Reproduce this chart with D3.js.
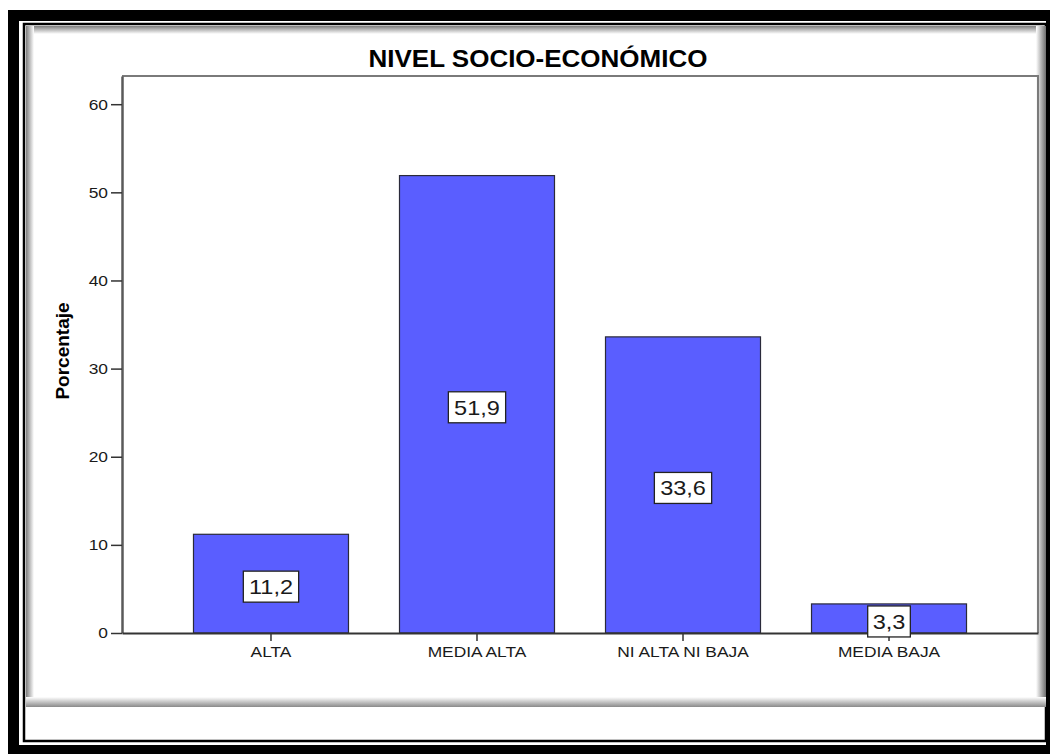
<!DOCTYPE html>
<html>
<head>
<meta charset="utf-8">
<script src="https://cdn.jsdelivr.net/npm/d3@7"></script>
<style>
  body { margin: 0; background: #fff; }
  svg { display: block; font-family: "Liberation Sans", Arial, sans-serif; }
</style>
</head>
<body>
<div id="canvas"></div>
<script>
// data
const categories = ['ALTA', 'MEDIA ALTA', 'NI ALTA NI BAJA', 'MEDIA BAJA'];
const percentages = [11.2, 51.9, 33.6, 3.3];
const yTicks = [0, 10, 20, 30, 40, 50, 60];
const yMax = 63.2;
const title = 'NIVEL SOCIO-ECONÓMICO';
const yLabel = 'Porcentaje';

const width = 1050, height = 754;
const plot = { left: 122, right: 1038, top: 76, bottom: 633 };
const stretchX = 1.12; // the source picture is a bit wider than tall
const fontFamily = '"Liberation Sans", Arial, sans-serif';

const svg = d3.select('#canvas').append('svg')
    .attr('width', width)
    .attr('height', height);

const defs = svg.append('defs');
function grad(id, x1, y1, x2, y2, c1, c2) {
  const g = defs.append('linearGradient').attr('id', id)
      .attr('x1', x1).attr('y1', y1).attr('x2', x2).attr('y2', y2);
  g.append('stop').attr('offset', 0).attr('stop-color', c1);
  g.append('stop').attr('offset', 1).attr('stop-color', c2);
}
grad('shTop', 0, 0, 0, 1, '#7d7d7d', '#ffffff');
grad('shLeft', 0, 0, 1, 0, '#7d7d7d', '#ffffff');
grad('shRight', 0, 0, 1, 0, '#ffffff', '#6e6e6e');
grad('shBottom', 0, 0, 0, 1, '#ffffff', '#8a8a8a');

// frame
svg.append('rect').attr('x', 8).attr('y', 10).attr('width', width).attr('height', height).attr('fill', '#000');
svg.append('rect').attr('x', 19).attr('y', 21).attr('width', 1027).attr('height', 724).attr('fill', '#fff');
svg.append('rect').attr('x', 24).attr('y', 24).attr('width', 1022).attr('height', 717)
    .attr('fill', '#fff').attr('stroke', '#000').attr('stroke-width', 2.5);

// chart panel with inner shadow
svg.append('rect').attr('x', 26).attr('y', 26).attr('width', 1020).attr('height', 8).attr('fill', 'url(#shTop)');
svg.append('rect').attr('x', 26).attr('y', 26).attr('width', 8).attr('height', 681).attr('fill', 'url(#shLeft)');
svg.append('rect').attr('x', 1036).attr('y', 26).attr('width', 10).attr('height', 681).attr('fill', 'url(#shRight)');
svg.append('rect').attr('x', 26).attr('y', 697).attr('width', 1020).attr('height', 10).attr('fill', 'url(#shBottom)');

function stretch(sel, k) {
  sel.each(function() {
    const len = this.getComputedTextLength();
    d3.select(this).attr('textLength', len * k).attr('lengthAdjust', 'spacingAndGlyphs');
  });
}

const x = d3.scaleBand()
    .domain(categories)
    .range([plot.left, plot.right])
    .paddingInner(0.2476)
    .paddingOuter(0.347);

const y = d3.scaleLinear()
    .domain([0, yMax])
    .range([plot.bottom, plot.top]);

// title
svg.append('text')
    .attr('x', 538).attr('y', 66.5)
    .attr('text-anchor', 'middle')
    .attr('font-size', 23).attr('font-weight', 'bold').attr('fill', '#000')
    .text(title)
    .call(stretch, 1.13);

// plot frame top / right
svg.append('path')
    .attr('d', `M${plot.left},${plot.top}H${plot.right}V${plot.bottom}`)
    .attr('fill', 'none').attr('stroke', '#7a7a7a').attr('stroke-width', 2);

// bars
svg.append('g').selectAll('rect')
    .data(percentages)
    .join('rect')
    .attr('x', (d, i) => x(categories[i]))
    .attr('y', d => y(d))
    .attr('width', x.bandwidth())
    .attr('height', d => y(0) - y(d))
    .attr('fill', '#5a5eff')
    .attr('stroke', '#2a2a3a')
    .attr('stroke-width', 1.2);

// y axis
const yAxis = svg.append('g')
    .attr('transform', `translate(${plot.left},0)`)
    .call(d3.axisLeft(y).tickValues(yTicks).tickSize(11).tickSizeOuter(0).tickPadding(3))
    .attr('font-family', fontFamily)
    .attr('font-size', 15.5);
yAxis.select('.domain').attr('stroke', '#5a5a5a').attr('stroke-width', 2.5);
yAxis.selectAll('.tick line').attr('stroke', '#333').attr('stroke-width', 1.5);
yAxis.selectAll('.tick text')
    .attr('fill', '#1a1a1a')
    .call(stretch, stretchX);

// x axis
const xAxis = svg.append('g')
    .attr('transform', `translate(0,${plot.bottom})`)
    .call(d3.axisBottom(x).tickSize(8).tickSizeOuter(0).tickPadding(5))
    .attr('font-family', fontFamily)
    .attr('font-size', 15.5);
xAxis.select('.domain').attr('stroke', '#333').attr('stroke-width', 2);
xAxis.selectAll('.tick line').attr('stroke', '#333').attr('stroke-width', 1.5);
xAxis.selectAll('.tick text')
    .attr('fill', '#1a1a1a')
    .call(stretch, stretchX);

// y label
svg.append('text')
    .attr('transform', `translate(69,351) rotate(-90)`)
    .attr('text-anchor', 'middle')
    .attr('font-size', 19).attr('font-weight', 'bold').attr('fill', '#000')
    .text(yLabel);

// value labels in boxes
const fmt = v => v.toFixed(1).replace('.', ',');
const labels = svg.append('g').selectAll('g')
    .data(percentages)
    .join('g')
    .attr('transform', (d, i) => `translate(${x(categories[i]) + x.bandwidth() / 2},${y(d / 2) + 3})`);

labels.append('text')
    .attr('text-anchor', 'middle')
    .attr('y', 7.5)
    .attr('font-size', 21).attr('fill', '#1a1a1a')
    .text(fmt)
    .call(stretch, stretchX);

labels.insert('rect', 'text')
    .each(function() {
      const t = this.parentNode.querySelector('text');
      const w = t.getComputedTextLength() * stretchX + 6;
      d3.select(this)
        .attr('x', -w / 2).attr('y', -15.5)
        .attr('width', w).attr('height', 31);
    })
    .attr('fill', '#fff').attr('stroke', '#222').attr('stroke-width', 1.3);
</script>
</body>
</html>
